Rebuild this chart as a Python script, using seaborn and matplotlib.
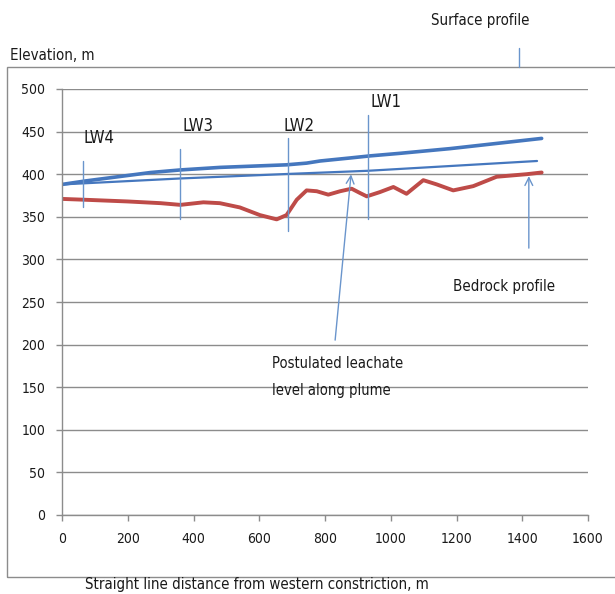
import matplotlib
matplotlib.use("Agg")
import matplotlib.pyplot as plt
import seaborn as sns
import pandas as pd
from matplotlib.patches import Rectangle
from matplotlib import font_manager

# ---- data ----
surface_x = [0, 70, 270, 360, 481, 683, 744, 785, 875, 937, 1028, 1180, 1459]
surface_y = [388, 392, 402, 405, 408, 411, 413, 415.5, 419, 421.5, 424.5, 430, 442]

leachate_x = [0, 360, 700, 930, 1445]
leachate_y = [388, 395, 400.5, 404, 415.5]

bedrock_x = [0, 70, 200, 300, 360, 430, 480, 541, 602, 653, 683, 714, 744, 775, 810,
             846, 881, 906, 927, 967, 1008, 1048, 1099, 1140, 1190, 1251, 1322, 1413, 1459]
bedrock_y = [371, 370, 368, 366, 364, 367, 366, 361, 352, 347, 352, 370, 381, 380, 376,
             380, 383, 378, 374, 379, 385, 377, 393, 388, 381, 386, 397, 400, 402]

wells = ["LW4", "LW3", "LW2", "LW1"]
well_x = [64, 359, 687, 931]
well_bottom = [361, 347, 333, 347]
well_top = [415, 429, 443, 469]

x_ticks = [0, 200, 400, 600, 800, 1000, 1200, 1400, 1600]
y_ticks = [0, 50, 100, 150, 200, 250, 300, 350, 400, 450, 500]

sns.set_style("white")
names = {f.name for f in font_manager.fontManager.ttflist}
if "Liberation Sans Narrow" in names:
    plt.rcParams['font.family'] = ['Liberation Sans Narrow', 'DejaVu Sans']
else:
    plt.rcParams['font.family'] = ['DejaVu Sans']
    plt.rcParams['font.stretch'] = 'condensed'

BLUE = "#4577BE"
RED = "#BE4B48"
GRID = "#8C8C8C"
TXT = "#1a1a1a"

fig = plt.figure(figsize=(6.15, 5.94), dpi=100)
fig.patches.append(Rectangle((7 / 615, 1 - 577 / 594), 1.0, (577 - 67) / 594,
                             transform=fig.transFigure, fill=False,
                             edgecolor="#8C8C8C", linewidth=1.0))
ax = fig.add_axes([62 / 615, 1 - 515 / 594, (588 - 62) / 615, (515 - 89) / 594])

df_s = pd.DataFrame({"x": surface_x, "y": surface_y})
df_l = pd.DataFrame({"x": leachate_x, "y": leachate_y})
df_b = pd.DataFrame({"x": bedrock_x, "y": bedrock_y})

kw = dict(sort=False, solid_joinstyle="round", solid_capstyle="round")
sns.lineplot(data=df_s, x="x", y="y", ax=ax, color=BLUE, linewidth=2.6, **kw)
sns.lineplot(data=df_l, x="x", y="y", ax=ax, color=BLUE, linewidth=1.6, **kw)
sns.lineplot(data=df_b, x="x", y="y", ax=ax, color=RED, linewidth=2.8, **kw)

for name, wx, wb, wt in zip(wells, well_x, well_bottom, well_top):
    ax.plot([wx, wx], [wb, wt], color="#6A95CC", linewidth=1.0)

label_pos = {"LW4": (112, 443), "LW3": (415, 457), "LW2": (720, 457), "LW1": (985, 485)}
for name in wells:
    lx, ly = label_pos[name]
    ax.text(lx, ly, name, fontsize=12, color=TXT, ha="center", va="center")

ax.annotate("", xy=(880, 403), xytext=(830, 202),
            arrowprops=dict(arrowstyle="->", color="#6A95CC", lw=1.0, mutation_scale=14))
ax.text(640, 162, "Postulated leachate\nlevel along plume", fontsize=10.5, color=TXT,
        ha="left", va="center", linespacing=2.05)
ax.annotate("", xy=(1420, 401), xytext=(1420, 310),
            arrowprops=dict(arrowstyle="->", color="#6A95CC", lw=1.0, mutation_scale=14))
ax.text(1190, 268, "Bedrock profile", fontsize=10.8, color=TXT, ha="left", va="center")

fig.text(480 / 615, 1 - 21 / 594, "Surface profile", fontsize=10.8, color=TXT,
         ha="center", va="center")
fig.add_artist(plt.Line2D([519 / 615, 519 / 615], [1 - 48 / 594, 1 - 67 / 594],
                          transform=fig.transFigure, color="#6A95CC", linewidth=1.0))

fig.text(10 / 615, 1 - 55 / 594, "Elevation, m", fontsize=10.8, color=TXT,
         ha="left", va="center")
fig.text(257 / 615, 1 - 585 / 594, "Straight line distance from western constriction, m",
         fontsize=10.8, color=TXT, ha="center", va="center")

ax.set_xlim(0, 1600)
ax.set_ylim(0, 500)
ax.set_xticks(x_ticks)
ax.set_yticks(y_ticks)
ax.set_xticklabels([str(v) for v in x_ticks])
ax.set_yticklabels([str(v) for v in y_ticks])
ax.set_xlabel("")
ax.set_ylabel("")
ax.yaxis.grid(True, color=GRID, linewidth=1.0)
ax.xaxis.grid(False)
ax.set_axisbelow(True)
for s in ["top", "right"]:
    ax.spines[s].set_visible(False)
for s in ["left", "bottom"]:
    ax.spines[s].set_color(GRID)
    ax.spines[s].set_linewidth(1.0)
ax.tick_params(axis="both", which="major", direction="out", length=4, width=1,
               color=GRID, labelsize=10, labelcolor=TXT, pad=8, left=True, bottom=True)

fig.savefig("out.png", dpi=100)
